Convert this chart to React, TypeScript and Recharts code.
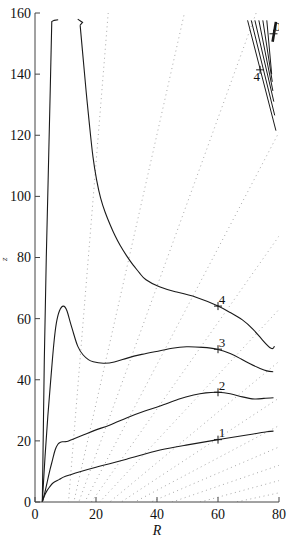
import { ComposedChart, Line, XAxis, YAxis, Scatter } from 'recharts';

const xTicks = [0, 20, 40, 60, 80];
const yTicks = [0, 20, 40, 60, 80, 100, 120, 140, 160];
const topTicks = [20, 40, 60];
const rightTicks = [20, 40, 60, 80, 100, 120, 140];

// contour 1 .. 4 as [R, z]
const curve1 = [
  [2.4, 0], [3, 1.8], [4, 3.8], [5, 5.2], [6, 6.3], [8, 7.4], [10, 8.4], [15, 10], [20, 11.4],
  [30, 14], [41, 17], [50, 18.7], [60, 20.4], [70, 22], [76, 23], [78.2, 23.2],
];
const curve2 = [
  [2.4, 0], [3.2, 3], [4, 6.5], [4.9, 10.5], [5.8, 14], [6.6, 17], [7.5, 18.9], [8.2, 19.5], [9, 19.7],
  [10.4, 19.8], [12, 20.4], [16, 22], [20, 23.6], [24.6, 25.2], [30, 27.5], [36, 29.8], [41, 31.4],
  [47, 33.6], [52, 35], [56, 35.7], [60, 35.9], [64, 35.4], [68, 34.4], [72, 33.7], [75, 33.9], [78.2, 34.1],
];
const curve3 = [
  [2.4, 0], [3.3, 15], [4.2, 28], [5, 38], [5.7, 46.5], [6.3, 53], [7, 58.5], [8, 62.5], [9.3, 64.1],
  [10.5, 62.5], [11.5, 59], [12.6, 55.3], [14, 51], [15.8, 48.1], [17.5, 46.6], [19.1, 45.9], [22.4, 45.4],
  [26, 45.8], [30, 47], [35, 48.3], [41, 49.5], [45, 50.3], [49.7, 50.8], [55, 50.6], [59.6, 50],
  [64, 48.6], [67.2, 47], [70.5, 45.2], [73.8, 43.7], [76, 42.9], [78.1, 42.6],
];
const curve4a = [
  [2.4, 0], [3.05, 46.5], [3.7, 80], [4.3, 105], [5, 135], [5.5, 157.2], [6.3, 157.6], [7.6, 157.8],
];
const curve4hook = [[14, 158], [15.6, 156.9], [14.8, 156]];
const curve4b = [
  [14.8, 156], [15.8, 145], [16.8, 134], [17.9, 123], [19, 113], [20.2, 105.4], [21.5, 99.5],
  [23, 94.8], [24.6, 90.8], [26.3, 87], [27.9, 84], [30, 80.6], [32.2, 77.5], [34.3, 74.9],
  [36.4, 72.7], [40.8, 70.4], [46, 68.8], [52.8, 67], [60, 64.1], [64, 62], [68, 59.6], [71.5, 56.5],
  [74.6, 53], [77.4, 50.3], [78.5, 51],
];

// short lines in the top right corner
const fanTopR = [69.7, 70.9, 72.1, 73.4, 74.7, 76.0];
const fanTopZ = 157.6;
const fanEndR = [79.0, 78.6, 78.3, 78.0, 77.8, 77.6];
const fanEndZ = [121.5, 126.5, 131, 134.5, 137.5, 140];
const boldLine = [[79.0, 157.1], [77.9, 150.6]];

// dotted guide lines, all from one point below the axis to the frame
const guideOrigin = [10, -12];
const guideEnds = [
  [24, 160], [49, 160], [72.5, 160], [80, 121], [80, 87], [80, 63], [80, 46], [80, 34],
  [80, 25], [80, 18], [80, 12], [80, 7], [80, 3],
];

const marks = [
  { R: 60, z: 20.4, label: '1' },
  { R: 60, z: 35.9, label: '2' },
  { R: 60, z: 50, label: '3' },
  { R: 60, z: 64.1, label: '4' },
  { R: 78.2, z: 153.2, label: '0' },
];
const fanMarks = [{ R: 73.8, z: 141.4, label: '4' }];

const pts = (a: number[][]) => a.map(([R, z]) => ({ R, z }));

const ink = '#1a1a1a';
const serif = "'Liberation Serif', 'Times New Roman', serif";
const tickStyle = { fill: '#111', fontSize: 14, fontFamily: serif, style: { fontFamily: serif } };

const PlusUR = (p: any) => (
  <g>
    <line x1={p.cx - 4} x2={p.cx + 4} y1={p.cy} y2={p.cy} stroke={ink} strokeWidth={1} />
    <line x1={p.cx} x2={p.cx} y1={p.cy - 4} y2={p.cy + 4} stroke={ink} strokeWidth={1} />
    <text x={p.cx + 4} y={p.cy - 2.5} textAnchor="middle" fontSize={13} style={{ fontFamily: serif }} fill="#111">
      {p.payload.label}
    </text>
  </g>
);

const PlusDL = (p: any) => (
  <g>
    <line x1={p.cx - 4} x2={p.cx + 4} y1={p.cy} y2={p.cy} stroke={ink} strokeWidth={1} />
    <line x1={p.cx} x2={p.cx} y1={p.cy - 4} y2={p.cy + 4} stroke={ink} strokeWidth={1} />
    <text x={p.cx - 3.3} y={p.cy + 11} textAnchor="middle" fontSize={13} style={{ fontFamily: serif }} fill="#111">
      {p.payload.label}
    </text>
  </g>
);

export default function App() {
  const smooth = [curve1, curve2, curve3, curve4b];
  const straight = [curve4a, curve4hook];
  const fans = fanTopR.map((r, i) => [[r, fanTopZ], [fanEndR[i], fanEndZ[i]]]);
  const guides = guideEnds.map((e) => [guideOrigin, e]);

  return (
    <div style={{ position: 'absolute', left: 0, top: 0, width: 292, height: 538, background: '#fff', fontFamily: serif }}>
      <ComposedChart width={292} height={538} margin={{ top: 13, right: 13, bottom: 0, left: 5 }}>
        <XAxis
          type="number"
          dataKey="R"
          domain={[0, 80]}
          ticks={xTicks}
          allowDataOverflow
          height={36}
          tickSize={-5}
          tickMargin={12}
          tick={tickStyle}
          stroke="#444"
          label={{ value: 'R', position: 'insideBottom', offset: 3, fontStyle: 'italic', fontSize: 14, style: { fontFamily: serif }, fill: '#111' }}
        />
        <XAxis
          xAxisId="top"
          orientation="top"
          type="number"
          domain={[0, 80]}
          ticks={topTicks}
          height={0}
          tickSize={-5}
          tick={false}
          stroke="#444"
        />
        <YAxis
          type="number"
          domain={[0, 160]}
          ticks={yTicks}
          allowDataOverflow
          width={30}
          tickSize={-5}
          tickMargin={9}
          tick={tickStyle}
          stroke="#444"
          label={{ value: 'z', angle: -90, position: 'left', offset: 1, fontStyle: 'italic', fontSize: 9, style: { fontFamily: serif }, fill: '#111' }}
        />
        <YAxis
          yAxisId="right"
          orientation="right"
          type="number"
          domain={[0, 160]}
          ticks={rightTicks}
          width={0}
          tickSize={-5}
          tick={false}
          stroke="#444"
        />
        {guides.map((g, i) => (
          <Line
            key={'g' + i}
            data={pts(g)}
            dataKey="z"
            type="linear"
            stroke="#a8a8a8"
            strokeWidth={1}
            strokeDasharray="1 3.5"
            dot={false}
            isAnimationActive={false}
          />
        ))}
        {smooth.map((c, i) => (
          <Line
            key={'c' + i}
            data={pts(c)}
            dataKey="z"
            type="natural"
            stroke={ink}
            strokeWidth={1.1}
            dot={false}
            isAnimationActive={false}
          />
        ))}
        {straight.map((c, i) => (
          <Line
            key={'s' + i}
            data={pts(c)}
            dataKey="z"
            type="linear"
            stroke={ink}
            strokeWidth={1.1}
            dot={false}
            isAnimationActive={false}
          />
        ))}
        {fans.map((f, i) => (
          <Line
            key={'f' + i}
            data={pts(f)}
            dataKey="z"
            type="linear"
            stroke={ink}
            strokeWidth={1}
            dot={false}
            isAnimationActive={false}
          />
        ))}
        <Line data={pts(boldLine)} dataKey="z" type="linear" stroke={ink} strokeWidth={2.6} dot={false} isAnimationActive={false} />
        <Scatter data={marks} dataKey="z" shape={PlusUR} isAnimationActive={false} />
        <Scatter data={fanMarks} dataKey="z" shape={PlusDL} isAnimationActive={false} />
      </ComposedChart>
    </div>
  );
}
